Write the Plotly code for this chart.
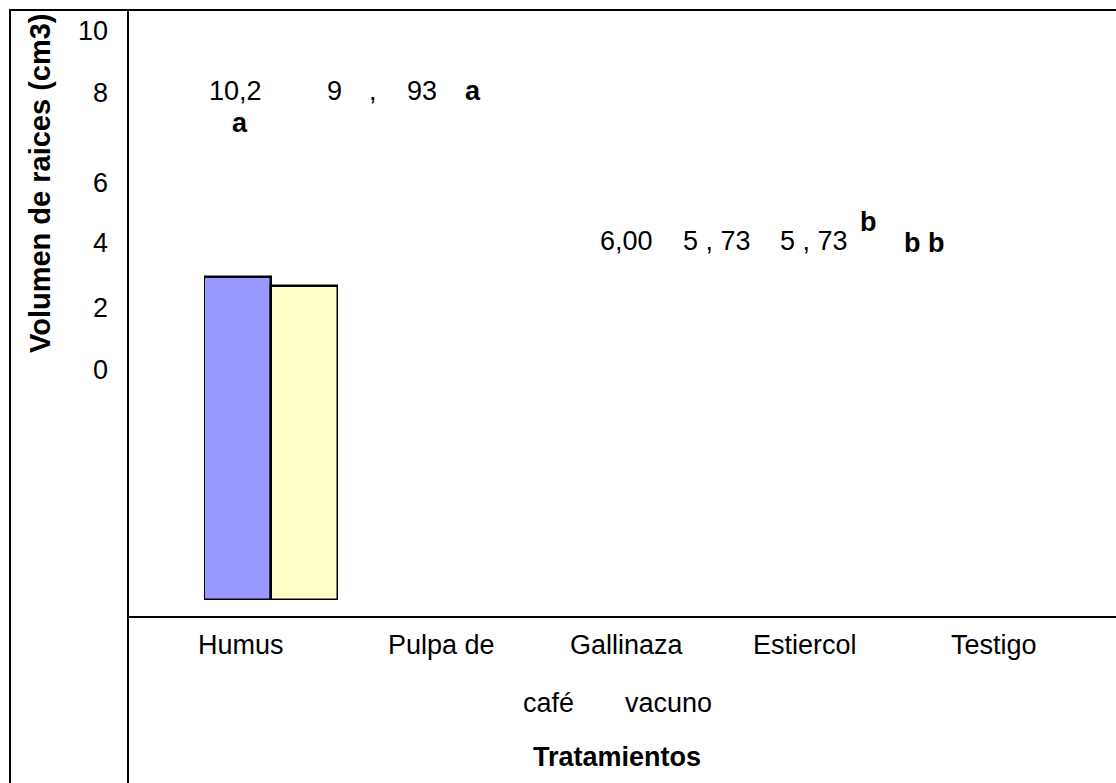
import plotly.graph_objects as go

W, H = 1116, 783

# ---- data ----
categories = ["Humus", "Pulpa de café", "Gallinaza", "Estiercol vacuno", "Testigo"]
values = [10.2, 9.93, 6.00, 5.73, 5.73]
letters = ["a", "a", "b", "b", "b"]
bar_colors = ["#9999FF", "#FFFFCC"]
drawn_bars = 2  # only the first two bars appear in the reference
tick_labels = ["10", "8", "6", "4", "2", "0"]
value_texts_top = ["10,2", "9", ",", "93"]
value_texts_mid = ["6,00", "5 , 73", "5 , 73"]
x_label_row1 = ["Humus", "Pulpa de", "Gallinaza", "Estiercol", "Testigo"]
x_label_row2 = ["café", "vacuno"]
x_title = "Tratamientos"
y_title = "Volumen de raices (cm3)"

FONT = "Liberation Sans, Arial, sans-serif"
FS = 27


def px(x):
    return x / W


def py(y):
    return 1 - y / H


fig = go.Figure()
fig.add_trace(go.Bar(
    x=categories[:drawn_bars],
    y=values[:drawn_bars],
    marker=dict(color=bar_colors, line=dict(color="black", width=2.5)),
    width=1.0,
    hoverinfo="skip",
))

# bar axis: y=0 at pixel 600, 1 unit = 31.67 px
y0_px, unit_px, ymax = 600, 31.67, 12
fig.update_layout(
    width=W, height=H,
    margin=dict(l=0, r=0, t=0, b=0),
    paper_bgcolor="white", plot_bgcolor="rgba(0,0,0,0)",
    showlegend=False,
    bargap=0,
    xaxis=dict(domain=[px(204), px(338)], range=[-0.5, 1.5], visible=False, fixedrange=True),
    yaxis=dict(domain=[py(y0_px), py(y0_px - ymax * unit_px)], range=[0, ymax], visible=False, fixedrange=True),
)

# frame lines
line = dict(color="black", width=2)
shapes = [
    dict(type="line", xref="paper", yref="paper", x0=px(9), x1=px(1116), y0=py(10), y1=py(10), line=line),
    dict(type="line", xref="paper", yref="paper", x0=px(10), x1=px(10), y0=py(9), y1=py(783), line=line),
    dict(type="line", xref="paper", yref="paper", x0=px(128), x1=px(128), y0=py(9), y1=py(783), line=line),
    dict(type="line", xref="paper", yref="paper", x0=px(127), x1=px(1116), y0=py(617), y1=py(617), line=line),
]
fig.update_layout(shapes=shapes)

ann = []


def text(x, y, s, size=FS, bold=False, xanchor="center", angle=0):
    ann.append(dict(
        x=px(x), y=py(y), xref="paper", yref="paper", text=f"<b>{s}</b>" if bold else s,
        showarrow=False, xanchor=xanchor, yanchor="middle", textangle=angle,
        font=dict(family=FONT, size=size, color="black"),
    ))


# y tick labels (irregular positions as in the reference)
for lab, yy in zip(tick_labels, [31, 93, 183, 243, 308, 370]):
    text(110, yy, lab, xanchor="right")

# y title
text(40, 183, y_title, size=29, bold=True, angle=-90)

# value labels
for s, xx in zip(value_texts_top, [235, 335, 373, 422]):
    text(xx, 91, s)
text(240, 123, letters[0], bold=True)
text(473, 91, letters[1], bold=True)
for s, xx in zip(value_texts_mid, [627, 717, 814]):
    text(xx, 241, s)
text(868, 222, letters[2], bold=True)
text(924, 243, letters[3] + " " + letters[4], bold=True)

# category labels
for s, xx in zip(x_label_row1, [241, 441, 627, 805, 994]):
    text(xx, 645, s)
for s, xx in zip(x_label_row2, [548, 668]):
    text(xx, 703, s)
text(617, 757, x_title, bold=True)

fig.update_layout(annotations=ann)
fig.write_html("out.html")
